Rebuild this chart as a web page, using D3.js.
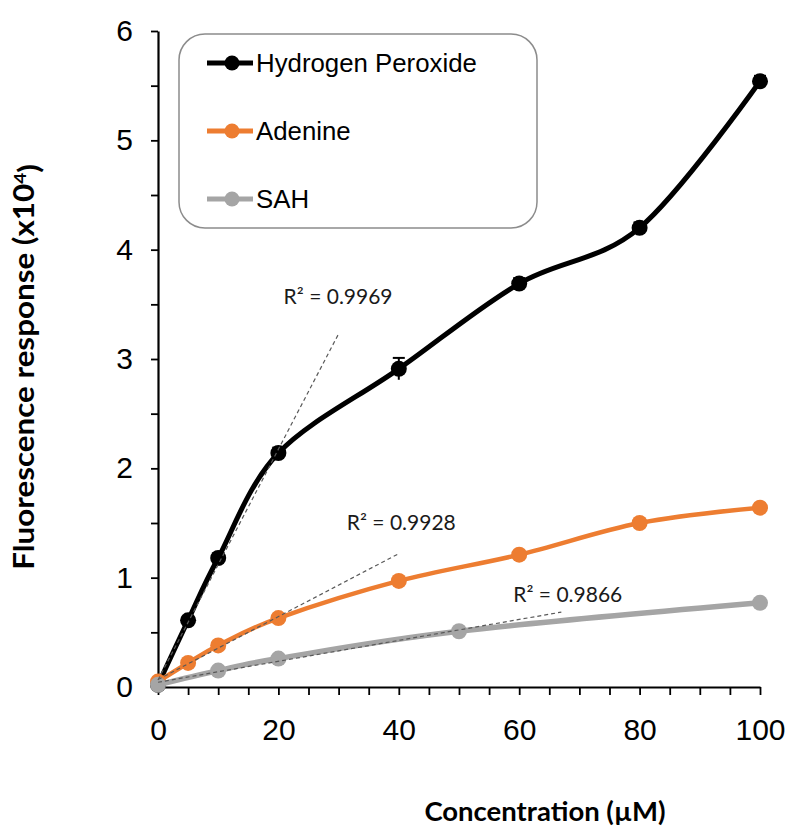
<!DOCTYPE html>
<html>
<head>
<meta charset="utf-8">
<script src="https://cdn.jsdelivr.net/npm/d3@7"></script>
<style>
body{margin:0;background:#fff;}
.canvas{width:787px;height:830px;}
</style>
</head>
<body>
<div id="canvas" class="canvas"></div>
<script>
// data (response in x10^4)
var conc = [0,5,10,20,40,60,80,100];
var sahConc = [0,10,20,50,100];
var h2o2 = [0.02,0.61,1.18,2.14,2.91,3.69,4.20,5.54];
var h2o2Err = [0.02,0.03,0.04,0.05,0.10,0.05,0.05,0.05];
var adenine = [0.05,0.22,0.38,0.63,0.97,1.21,1.50,1.64];
var adenineErr = [0.01,0.02,0.02,0.03,0.03,0.03,0.03,0.03];
var sah = [0.02,0.15,0.26,0.51,0.77];
var seriesNames = ['Hydrogen Peroxide','Adenine','SAH'];
var r2Labels = ['R\u00b2 = 0.9969','R\u00b2 = 0.9928','R\u00b2 = 0.9866'];
var fitUpTo = [20,20,50];   // points used for the linear trendline
var trendTo = [30,40,67];   // trendline drawn from 0 to here
var xTickLabels = [0,20,40,60,80,100];
var yTickLabels = [0,1,2,3,4,5,6];

var m = {t:31,r:27,b:143,l:158},
    w = 787 - m.l - m.r,
    h = 830 - m.t - m.b;

var svg = d3.select('.canvas')
    .append('svg')
    .attr('width', 787)
    .attr('height', 830);

var plot = svg.append('g')
    .attr('transform','translate('+m.l+','+m.t+')');

var x = d3.scaleLinear().domain([0,100]).range([0,w]);
var y = d3.scaleLinear().domain([0,6]).range([h,0]);

var series = [
    {name:seriesNames[0], xs:conc, ys:h2o2, err:h2o2Err, color:'#000000', width:5},
    {name:seriesNames[1], xs:conc, ys:adenine, err:adenineErr, color:'#ED7D31', width:4.5},
    {name:seriesNames[2], xs:sahConc, ys:sah, err:null, color:'#A5A5A5', width:5.5}
];

// axes
var yAxis = d3.axisLeft(y)
    .tickValues(d3.range(0,6.01,0.5))
    .tickSize(7).tickSizeOuter(0).tickPadding(18)
    .tickFormat(function(d){ return yTickLabels.indexOf(d) > -1 ? d : ''; });
var xAxis = d3.axisBottom(x)
    .tickValues(d3.range(0,100.1,5))
    .tickSize(8).tickSizeOuter(0).tickPadding(24)
    .tickFormat(function(d){ return xTickLabels.indexOf(d) > -1 ? d : ''; });

var gy = plot.append('g').call(yAxis);
var gx = plot.append('g').attr('transform','translate(0,'+h+')').call(xAxis);
[gy,gx].forEach(function(g){
    g.select('.domain').attr('stroke','#000').attr('stroke-width',2.2);
    g.selectAll('.tick line').attr('stroke','#000').attr('stroke-width',1.8);
    g.selectAll('.tick text')
        .attr('fill','#000')
        .style('font-family','"Liberation Sans", Arial, sans-serif')
        .style('font-size','30px');
});

// lines
var line = d3.line()
    .x(function(d){ return x(d[0]); })
    .y(function(d){ return y(d[1]); })
    .curve(d3.curveCardinal.tension(0));

series.forEach(function(s){
    var pts = s.xs.map(function(v,i){ return [v, s.ys[i]]; });
    var g = plot.append('g');
    g.append('path')
        .datum(pts)
        .attr('d', line)
        .attr('fill','none')
        .attr('stroke', s.color)
        .attr('stroke-width', s.width)
        .attr('stroke-linejoin','round');
    if (s.err) {
        var eb = g.selectAll('.err').data(pts).enter().append('g');
        eb.append('line')
            .attr('x1', function(d){ return x(d[0]); })
            .attr('x2', function(d){ return x(d[0]); })
            .attr('y1', function(d,i){ return y(d[1]-s.err[i]); })
            .attr('y2', function(d,i){ return y(d[1]+s.err[i]); })
            .attr('stroke', s.color).attr('stroke-width',2);
        eb.append('line')
            .attr('x1', function(d){ return x(d[0])-6; })
            .attr('x2', function(d){ return x(d[0])+6; })
            .attr('y1', function(d,i){ return y(d[1]+s.err[i]); })
            .attr('y2', function(d,i){ return y(d[1]+s.err[i]); })
            .attr('stroke', s.color).attr('stroke-width',2);
    }
    g.selectAll('circle').data(pts).enter().append('circle')
        .attr('cx', function(d){ return x(d[0]); })
        .attr('cy', function(d){ return y(d[1]); })
        .attr('r', 8)
        .attr('fill', s.color);
});

// linear trendlines + R^2 labels
var labelOffset = [[-55,-30],[-52,-24],[-48,-10]];
series.forEach(function(s,k){
    var px = [], py = [];
    s.xs.forEach(function(v,i){ if (v <= fitUpTo[k]) { px.push(v); py.push(s.ys[i]); } });
    var mx = d3.mean(px), my = d3.mean(py);
    var sxy = d3.sum(px, function(v,i){ return (v-mx)*(py[i]-my); });
    var sxx = d3.sum(px, function(v){ return (v-mx)*(v-mx); });
    var b = sxy/sxx, a = my - b*mx;
    var ends = [[0,a],[trendTo[k], a + b*trendTo[k]]];
    plot.append('path')
        .datum(ends)
        .attr('d', d3.line().x(function(d){ return x(d[0]); }).y(function(d){ return y(d[1]); }))
        .attr('stroke','#595959')
        .attr('stroke-width',1.2)
        .attr('stroke-dasharray','4,3')
        .attr('fill','none');
    plot.append('text')
        .attr('x', x(ends[1][0]) + labelOffset[k][0])
        .attr('y', y(ends[1][1]) + labelOffset[k][1])
        .style('font-family','Lato, "Open Sans", sans-serif')
        .style('font-size','21px')
        .attr('fill','#1a1a1a')
        .text(r2Labels[k]);
});

// legend
var leg = svg.append('g').attr('transform','translate(179,34)');
leg.append('rect')
    .attr('width',358).attr('height',194)
    .attr('rx',26).attr('ry',26)
    .attr('fill','#fff')
    .attr('stroke','#8c8c8c')
    .attr('stroke-width',1.5);
var rows = leg.selectAll('.row').data(series).enter().append('g')
    .attr('transform', function(d,i){ return 'translate(0,'+(29 + i*68)+')'; });
rows.append('line')
    .attr('x1',28).attr('x2',74)
    .attr('stroke', function(d){ return d.color; })
    .attr('stroke-width',5);
rows.append('circle')
    .attr('cx',53).attr('r',7.5)
    .attr('fill', function(d){ return d.color; });
rows.append('text')
    .attr('x',77).attr('dy','0.35em')
    .style('font-family','"Liberation Sans", Arial, sans-serif')
    .style('font-size','25.8px')
    .attr('fill','#000')
    .text(function(d){ return d.name; });

// axis titles
svg.append('text')
    .attr('x', 545).attr('y', 821)
    .attr('text-anchor','middle')
    .style('font-family','Lato, "Open Sans", sans-serif')
    .style('font-weight','bold')
    .style('font-size','27.5px')
    .text('Concentration (\u00b5M)');

var yt = svg.append('text')
    .attr('transform','translate(34,367) rotate(-90) scale(1.12,1)')
    .attr('text-anchor','middle')
    .style('font-family','Lato, "Open Sans", sans-serif')
    .style('font-weight','bold')
    .style('font-size','28px');
yt.append('tspan').text('Fluorescence response (x10');
yt.append('tspan').attr('dy','-0.45em').style('font-size','17px').text('4');
yt.append('tspan').attr('dy','0.45em').text(')');
</script>
</body>
</html>
